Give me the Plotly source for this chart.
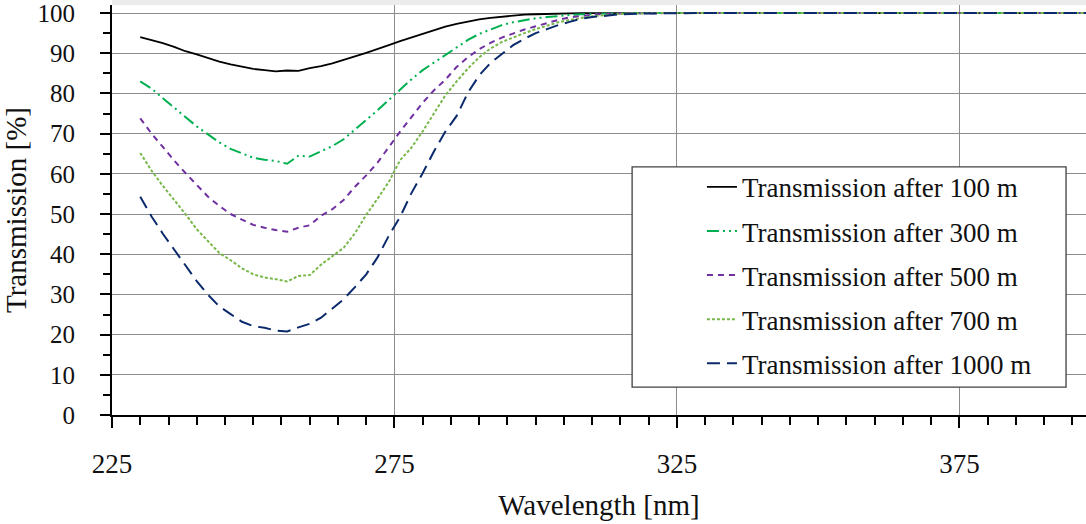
import plotly.graph_objects as go

wavelength = [230, 232, 234, 236, 238, 240, 242, 244, 246, 248, 250, 252, 254, 256, 258, 260,
              262, 264, 266, 268, 270, 272, 274, 276, 278, 280, 282, 284, 286, 288, 290, 292,
              294, 296, 298, 300, 302, 304, 306, 308, 310, 315, 320, 325, 330, 335, 340, 345,
              350, 355, 360, 365, 370, 375, 380, 385, 390, 395, 400]

t100 = [94.0, 93.3, 92.5, 91.6, 90.5, 89.7, 88.8, 87.9, 87.2, 86.6, 86.1, 85.8, 85.5, 85.7, 85.6, 86.3,
        86.8, 87.5, 88.3, 89.2, 90.1, 91.0, 92.0, 93.0, 93.9, 94.8, 95.7, 96.6, 97.3, 97.9, 98.4, 98.8,
        99.1, 99.4, 99.6, 99.7, 99.8, 99.9, 99.9, 100, 100, 100, 100, 100, 100, 100, 100, 100,
        100, 100, 100, 100, 100, 100, 100, 100, 100, 100, 100]

t300 = [83.0, 81.2, 78.8, 76.4, 74.0, 71.8, 69.8, 67.8, 66.2, 65.0, 64.0, 63.5, 63.2, 62.5, 64.5, 64.3,
        65.5, 66.9, 68.6, 71.0, 73.3, 75.8, 78.4, 81.0, 83.5, 85.8, 87.7, 89.7, 91.6, 93.3, 94.8, 96.0,
        97.0, 97.7, 98.2, 98.7, 99.0, 99.3, 99.5, 99.7, 99.8, 99.9, 100, 100, 100, 100, 100, 100,
        100, 100, 100, 100, 100, 100, 100, 100, 100, 100, 100]

t500 = [73.8, 70.0, 66.7, 63.3, 60.2, 57.2, 54.3, 52.0, 50.0, 48.6, 47.3, 46.6, 46.0, 45.6, 46.6, 47.2,
        49.6, 51.2, 53.5, 56.8, 59.6, 62.8, 66.8, 70.5, 74.1, 77.7, 80.8, 83.4, 86.6, 89.0, 91.0, 92.6,
        93.9, 94.9, 95.9, 96.7, 97.5, 98.3, 98.9, 99.3, 99.6, 99.9, 100, 100, 100, 100, 100, 100,
        100, 100, 100, 100, 100, 100, 100, 100, 100, 100, 100]

t700 = [65.2, 60.8, 57.0, 53.5, 50.0, 46.2, 43.3, 40.3, 38.5, 36.5, 35.0, 34.2, 33.8, 33.2, 34.6, 34.8,
        37.4, 39.6, 41.6, 45.2, 49.8, 53.8, 58.0, 63.4, 66.5, 70.6, 75.2, 79.5, 83.0, 86.2, 89.0, 91.2,
        92.8, 94.0, 95.0, 96.0, 96.9, 97.7, 98.3, 98.8, 99.2, 99.8, 100, 100, 100, 100, 100, 100,
        100, 100, 100, 100, 100, 100, 100, 100, 100, 100, 100]

t1000 = [54.3, 49.4, 45.1, 41.2, 37.2, 33.3, 29.9, 27.0, 25.1, 23.2, 22.1, 21.7, 21.0, 20.8, 21.8, 22.7,
         24.2, 26.4, 28.8, 31.8, 35.0, 39.2, 44.6, 49.3, 55.2, 60.2, 65.6, 70.5, 74.4, 80.2, 84.5, 87.6,
         89.8, 92.0, 93.6, 95.0, 96.0, 97.0, 97.8, 98.6, 99.0, 99.7, 99.9, 100, 100, 100, 100, 100,
         100, 100, 100, 100, 100, 100, 100, 100, 100, 100, 100]

names = ["Transmission after 100 m", "Transmission after 300 m", "Transmission after 500 m",
         "Transmission after 700 m", "Transmission after 1000 m"]
series = [t100, t300, t500, t700, t1000]
colors = ["#000000", "#00b050", "#7030a0", "#78b84a", "#0b2a6b"]
dashes = ["solid", "12px,4px,2px,4px,2px,4px", "6px,5px", "3px,2px", "13px,7px"]
widths = [1.8, 2, 2, 2, 2]

FONT = "Liberation Serif"

fig = go.Figure()
for i in range(5):
    fig.add_trace(go.Scatter(
        x=wavelength, y=series[i], mode="lines", name=names[i],
        legendgroup=str(i),
        line=dict(color=colors[i], dash=dashes[i], width=widths[i]),
    ))

fig.update_layout(
    width=1086, height=524,
    margin=dict(l=112, r=0, t=5, b=109, autoexpand=False),
    paper_bgcolor="white", plot_bgcolor="white",
    font=dict(family=FONT, size=27, color="#111111"),
    showlegend=True,
    legend=dict(
        x=0.6057, y=0.615, xanchor="left", yanchor="top",
        bgcolor="rgba(0,0,0,0)", borderwidth=0,
        font=dict(family=FONT, size=27, color="#111111"),
        tracegroupgap=6, traceorder="grouped",
    ),
    shapes=[
        dict(type="rect", xref="paper", yref="paper", x0=0, x1=1, y0=1, y1=1.02,
             line=dict(width=0), fillcolor="#ececec", layer="below"),
        dict(type="rect", xref="paper", yref="paper", x0=0.534, x1=0.9795, y0=0.068, y1=0.605,
             line=dict(color="#404040", width=1.3), fillcolor="white", layer="above"),
    ],
)

fig.update_xaxes(
    range=[225, 397.4], tickmode="array", tickvals=[225, 275, 325, 375],
    ticks="outside", ticklen=11, tickwidth=2, tickcolor="black",
    showline=True, linecolor="black", linewidth=2,
    showgrid=True, gridcolor="#8c8c8c", gridwidth=1,
    zeroline=False, ticklabelstandoff=13, automargin=False,
    ticklabeloverflow="allow",
    minor=dict(dtick=5, tick0=225, ticks="outside", ticklen=8, tickwidth=2,
               tickcolor="black", showgrid=False),
    title=dict(text="Wavelength [nm]", font=dict(family=FONT, size=29), standoff=16),
    tickfont=dict(family=FONT, size=27),
)
fig.update_yaxes(
    range=[0, 102], tickmode="array", tickvals=list(range(0, 101, 10)),
    ticks="outside", ticklen=10, tickwidth=2, tickcolor="black",
    showline=True, linecolor="black", linewidth=2,
    showgrid=True, gridcolor="#8c8c8c", gridwidth=1,
    zeroline=False, ticklabelstandoff=20, automargin=False,
    ticklabeloverflow="allow",
    minor=dict(dtick=5, tick0=0, ticks="outside", ticklen=7, tickwidth=2,
               tickcolor="black", showgrid=False),
    title=dict(text="Transmission [%]", font=dict(family=FONT, size=29), standoff=10),
    tickfont=dict(family=FONT, size=25),
)

fig.write_html("out.html")
